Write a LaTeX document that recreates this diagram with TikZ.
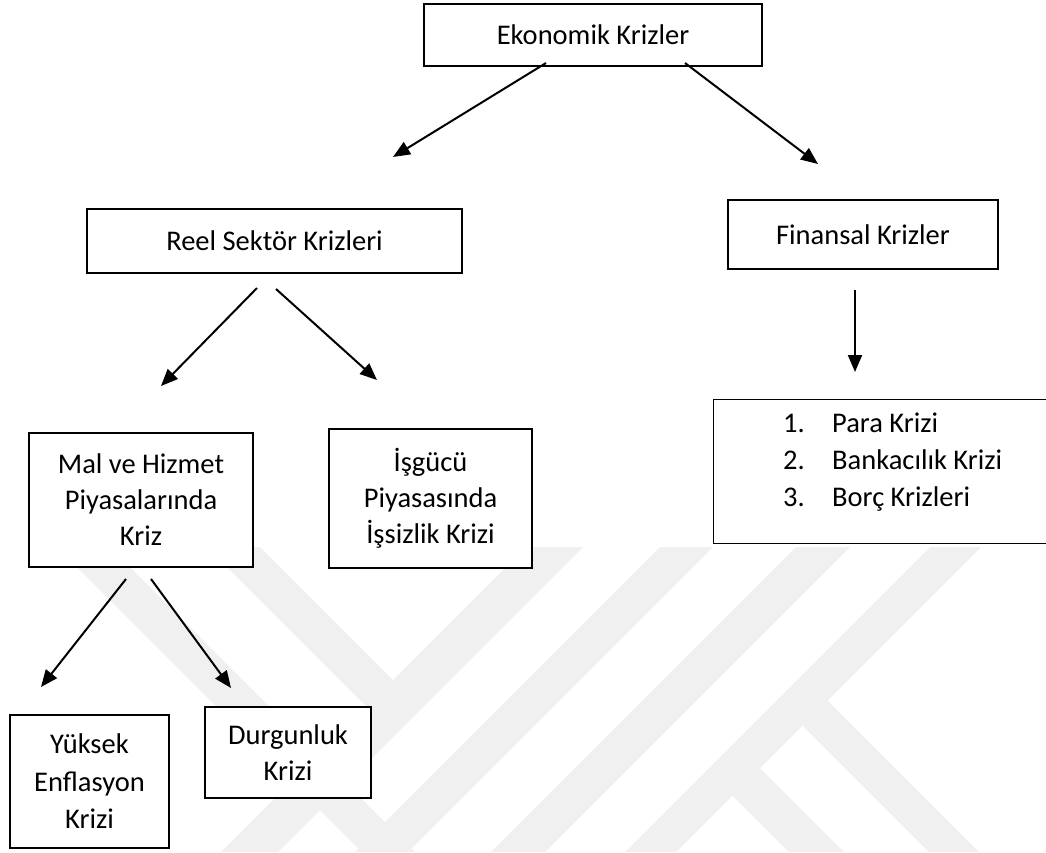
\documentclass[tikz,border=0pt]{standalone}
\usepackage{fontspec}
\setmainfont{Carlito}
\usetikzlibrary{arrows.meta}
\begin{document}
\begin{tikzpicture}[x=1pt,y=-1pt,
  box/.style={draw=black, line width=1.4pt, fill=white, inner sep=0pt, align=center, font=\fontsize{28.5}{36}\selectfont},
  thickbox/.style={box, line width=2.8pt},
  txt/.style={inner sep=0pt, align=left, font=\fontsize{28.5}{37}\selectfont},
  arr/.style={line width=2pt, -{Triangle[length=17pt,width=14pt]}},
  wm/.style={fill=black!6, draw=none}]
\useasboundingbox (0,0) rectangle (1046,852);
% watermark
\begin{scope}
\clip (0,547) rectangle (1046,852);
\fill[wm] (57,547) -- (110,547) -- (415,852) -- (362,852) -- cycle;
\fill[wm] (207,547) -- (260,547) -- (406.5,693.5) -- (380,720) -- cycle;
\fill[wm] (526,547) -- (583,547) -- (278,852) -- (221,852) -- cycle;
\fill[wm] (660,547) -- (713,547) -- (408,852) -- (355,852) -- cycle;
\fill[wm] (796,547) -- (850,547) -- (545,852) -- (491,852) -- cycle;
\fill[wm] (930,547) -- (981,547) -- (676,852) -- (625,852) -- cycle;
\fill[wm] (788.5,711.5) -- (813.5,686.5) -- (979,852) -- (929,852) -- cycle;
\fill[wm] (718.5,781.5) -- (746,754) -- (844,852) -- (789,852) -- cycle;
\end{scope}
% boxes
\node[thickbox, minimum width=338pt, minimum height=62pt] (eko) at (593,35) {Ekonomik Krizler};
\node[box, minimum width=375pt, minimum height=64pt] (reel) at (274.5,241) {Reel Sektör Krizleri};
\node[thickbox, minimum width=270pt, minimum height=69pt] (fin) at (863,234.5) {Finansal Krizler};
\node[box, minimum width=345pt, minimum height=144pt, anchor=north west] (fk) at (713,399) {};
\node[txt, anchor=west] (fklist) at (783,462) {\makebox[49pt][l]{1.}Para Krizi\\\makebox[49pt][l]{2.}Bankacılık Krizi\\\makebox[49pt][l]{3.}Borç Krizleri};
\node[box, minimum width=224pt, minimum height=134pt] (mal) at (141,500) {Mal ve Hizmet\\Piyasalarında\\Kriz};
\node[box, minimum width=203pt, minimum height=139pt] (isg) at (430.5,498.5) {İşgücü\\Piyasasında\\İşsizlik Krizi};
\node[box, minimum width=159pt, minimum height=133pt, font=\fontsize{28.5}{37.5}\selectfont] (yuk) at (89.5,781.5) {Yüksek\\Enflasyon\\Krizi};
\node[box, minimum width=166pt, minimum height=91pt] (dur) at (288,752.5) {Durgunluk\\Krizi};
% arrow end points
\coordinate (ekoL) at (546,63);   \coordinate (reelIn) at (393,157);
\coordinate (ekoR) at (685,63);   \coordinate (finIn) at (818,164);
\coordinate (reelL) at (257,288); \coordinate (malIn) at (161,386);
\coordinate (reelR) at (276,289); \coordinate (isgIn) at (377,380);
\coordinate (finB) at (855,290);  \coordinate (fkIn) at (855,372);
\coordinate (malL) at (126,579);  \coordinate (yukIn) at (41,687);
\coordinate (malR) at (151,579);  \coordinate (durIn) at (231,688);
\draw[arr] (ekoL) -- (reelIn);
\draw[arr] (ekoR) -- (finIn);
\draw[arr] (reelL) -- (malIn);
\draw[arr] (reelR) -- (isgIn);
\draw[arr] (finB) -- (fkIn);
\draw[arr] (malL) -- (yukIn);
\draw[arr] (malR) -- (durIn);
\end{tikzpicture}
\end{document}
